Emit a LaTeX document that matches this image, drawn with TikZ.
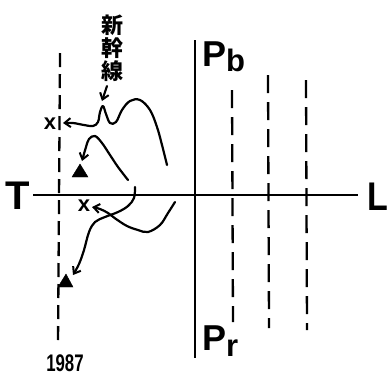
\documentclass[tikz,border=0pt]{standalone}
\usepackage{fontspec}
\setmainfont{Liberation Sans}
\newfontfamily\cjk{Noto Sans CJK JP}
\usetikzlibrary{arrows.meta}
\begin{document}
\begin{tikzpicture}[x=1pt,y=-1pt,
  curve/.style={line width=2.2pt, line cap=round, line join=round},
  barb/.style={-{Straight Barb[length=6pt,width=9pt,line width=2pt]}},
  axisline/.style={line width=1.7pt},
  dashline/.style={line width=2.3pt, dash pattern=on 18pt off 9pt},
  bigtxt/.style={font=\fontsize{40}{40}\selectfont\bfseries, inner sep=0pt},
  ptxt/.style={font=\fontsize{36}{36}\selectfont\bfseries, inner sep=0pt, anchor=west},
  xmark/.style={font=\fontsize{22}{22}\selectfont\bfseries, inner sep=0pt},
  tri/.style={fill=black, draw=black, line join=miter}]
\path[use as bounding box] (0,0) rectangle (390,376);
% axis
\node[bigtxt] (T) at (18,196) {T};
\node[bigtxt, xscale=0.85] (L) at (378,197) {L};
\draw[axisline] (33,195) coordinate (ax0) -- (358,195) coordinate (ax1);
% main vertical line
\coordinate (vt) at (195,40);
\coordinate (vb) at (195,358);
\draw[line width=2.8pt] (vt) -- (vb);
\node[ptxt] (Pb) at (202,57) {P\raisebox{-5pt}{\fontsize{31}{31}\selectfont b}};
\node[ptxt] (Pr) at (202,341) {P\raisebox{-6pt}{\fontsize{31}{31}\selectfont r}};
% dashed lines right
\coordinate (d1t) at (232,90);  \coordinate (d1b) at (233,322);
\coordinate (d2t) at (268,75);  \coordinate (d2b) at (269,328);
\coordinate (d3t) at (306,80);  \coordinate (d3b) at (307,330);
\draw[dashline] (d1t) -- (d1b);
\draw[dashline] (d2t) -- (d2b);
\draw[dashline] (d3t) -- (d3b);
% left dashed line
\coordinate (d0t) at (60,53); \coordinate (d0b) at (58,346);
\draw[dashline, dash pattern=on 14pt off 7pt] (d0t) -- (d0b);
\node[font=\fontsize{24}{24}\selectfont\bfseries, xscale=0.7, inner sep=0pt, anchor=base] (yr) at (65,371) {1987};
% shinkansen label
\node[font=\cjk\bfseries\fontsize{22}{23}\selectfont, align=center, inner sep=0pt] (sk) at (112,48) {新\\幹\\線};
\coordinate (ska) at (107,86);
\coordinate (skb) at (102,101);
\draw[curve, barb] (ska) -- (skb);
% marks
\node[xmark] (x1) at (50,124) {x};
\node[xmark] (x2) at (84,206) {x};
\draw[tri] (72,177) -- (88,177) -- (80,164) -- cycle;
\coordinate (t1) at (80,170);
\draw[tri] (58,287) -- (73,287) -- (66,274) -- cycle;
\coordinate (t2) at (66,282);
% curves
\draw[curve, barb] plot[smooth, tension=0.6] coordinates {(167,165) (162,145) (157,127) (150,110) (140,100) (130,101) (122,110) (116,122) (110,123) (106,114) (103,106) (100,112) (98,122) (93,126) (84,125) (73,123) (63,123)};
\draw[curve, barb] plot[smooth, tension=0.6] coordinates {(128,180) (118,167) (110,155) (102,143) (95,136) (89,139) (86,147) (82,161)};
\draw[curve, barb] plot[smooth, tension=0.6] coordinates {(135,187) (134,198) (128,206) (118,212) (105,217) (95,222) (89,232) (84,250) (79,264) (73,275)};
\draw[curve, barb] plot[smooth, tension=0.6] coordinates {(175,202) (168,213) (160,225) (148,232) (138,230) (127,226) (116,219) (108,213) (100,209) (92,207)};
\end{tikzpicture}
\end{document}
